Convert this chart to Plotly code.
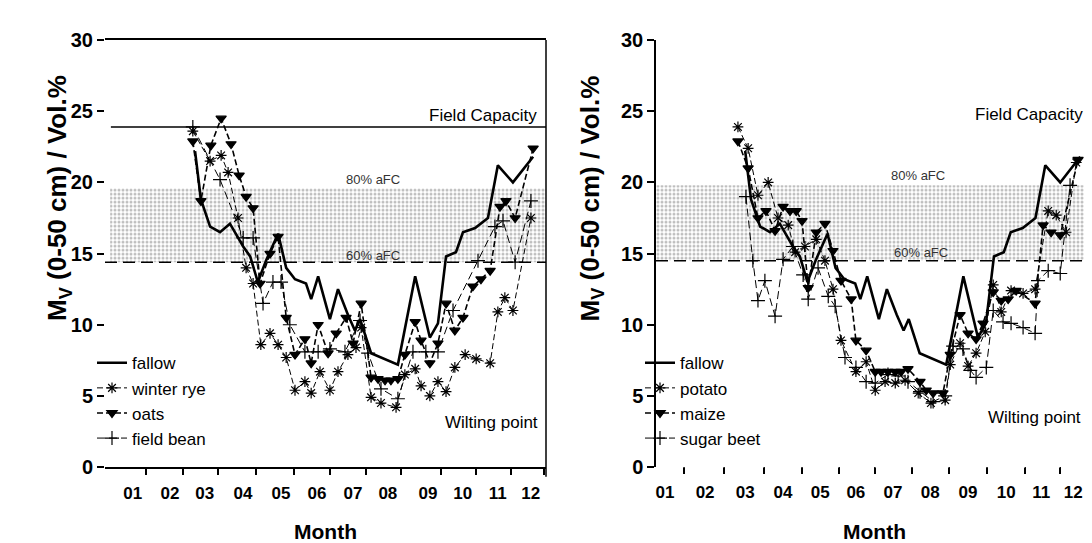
import plotly.graph_objects as go

# ---------------- data (t = time in months since 1 Jan, v = soil moisture Mv, Vol.%) ----------------
month_labels = ["01", "02", "03", "04", "05", "06", "07", "08", "09", "10", "11", "12"]

# left panel
fallow_t = [2.45, 2.61, 2.86, 3.13, 3.40, 3.76, 3.95, 4.16, 4.38, 4.71, 4.93, 5.17, 5.47, 5.61, 5.80,
            6.12, 6.34, 6.61, 6.80, 6.94, 7.24, 7.97, 8.44, 8.84, 9.06, 9.28, 9.55, 9.74, 10.07, 10.42,
            10.69, 11.10, 11.65]
fallow_v = [22.2, 18.8, 16.9, 16.5, 17.1, 15.5, 14.8, 13.0, 14.5, 16.4, 14.0, 13.2, 12.9, 11.8, 13.4,
            10.4, 12.5, 10.7, 9.6, 10.4, 8.0, 7.2, 13.4, 9.1, 10.1, 14.8, 15.1, 16.5, 16.8, 17.5,
            21.2, 20.0, 21.8]

winter_rye_t = [2.39, 2.86, 3.16, 3.35, 3.62, 3.84, 4.03, 4.24, 4.49, 4.71, 4.93, 5.17, 5.44, 5.61, 5.85,
                6.12, 6.34, 6.61, 6.83, 6.97, 7.24, 7.51, 7.92, 8.16, 8.44, 8.60, 8.84, 9.06, 9.28, 9.52,
                9.80, 10.10, 10.48, 10.69, 10.88, 11.10, 11.59]
winter_rye_v = [23.6, 21.5, 21.9, 20.7, 17.5, 14.0, 12.9, 8.6, 9.4, 8.6, 7.7, 5.4, 6.0, 5.2, 6.7,
                5.4, 6.7, 7.9, 8.4, 9.8, 4.9, 4.5, 4.2, 6.5, 6.9, 5.7, 5.0, 6.0, 5.3, 7.0,
                7.9, 7.6, 7.3, 10.9, 11.9, 11.0, 17.5]

oats_t = [2.39, 2.61, 2.88, 3.16, 3.43, 3.65, 3.84, 4.03, 4.22, 4.49, 4.71, 4.93, 5.17, 5.44, 5.61,
          5.80, 6.07, 6.29, 6.56, 6.75, 6.97, 7.24, 7.43, 7.62, 7.78, 7.97, 8.16, 8.44, 8.60, 8.84,
          9.06, 9.28, 9.52, 9.74, 10.01, 10.23, 10.48, 10.75, 10.91, 11.16, 11.65]
oats_v = [22.9, 18.7, 22.6, 24.5, 22.7, 20.5, 19.0, 18.2, 12.9, 15.0, 16.2, 10.5, 7.9, 9.0, 7.3,
          10.0, 8.0, 9.4, 10.5, 8.7, 11.5, 6.3, 6.2, 6.1, 6.1, 6.2, 7.9, 10.2, 8.9, 7.3,
          8.7, 11.5, 9.6, 10.5, 12.7, 13.2, 13.8, 18.3, 18.7, 17.5, 22.4]

field_bean_t = [2.39, 3.13, 3.76, 4.03, 4.30, 4.57, 4.79, 5.03, 5.44, 5.80, 6.12, 6.53, 6.94, 7.16, 7.51,
                7.97, 8.38, 8.73, 9.06, 9.47, 10.15, 10.61, 10.83, 11.16, 11.59]
field_bean_v = [23.9, 20.2, 16.1, 16.1, 11.5, 13.0, 13.0, 10.0, 8.1, 8.1, 8.3, 8.1, 10.3, 8.0, 5.5,
                4.8, 8.1, 8.1, 8.1, 11.0, 14.5, 16.9, 17.3, 14.4, 18.7]

# right panel
potato_t = [2.25, 2.53, 2.80, 3.08, 3.35, 3.63, 3.82, 4.09, 4.40, 4.64, 4.86, 5.08, 5.49, 5.77, 6.02,
            6.29, 6.57, 6.84, 7.20, 7.55, 7.94, 8.08, 8.35, 8.57, 8.79, 9.04, 9.26, 9.48, 9.75, 10.08,
            10.41, 10.77, 10.99, 11.26, 11.54]
potato_v = [23.9, 22.4, 19.1, 20.0, 17.5, 17.0, 15.1, 15.5, 16.0, 14.5, 12.5, 8.9, 6.7, 7.4, 5.4,
            6.0, 5.9, 6.1, 5.2, 4.5, 4.7, 7.2, 8.7, 7.1, 8.0, 9.5, 12.8, 10.9, 12.4, 12.2,
            12.5, 18.0, 17.7, 16.5, 21.4]

maize_t = [2.25, 2.53, 2.80, 3.02, 3.27, 3.49, 3.68, 3.85, 4.01, 4.18, 4.40, 4.64, 4.86, 5.08, 5.36,
           5.49, 5.77, 6.02, 6.18, 6.37, 6.57, 6.73, 6.92, 7.25, 7.42, 7.61, 7.88, 8.08, 8.35, 8.57,
           8.79, 8.98, 9.26, 9.48, 9.67, 9.89, 10.41, 10.63, 10.85, 11.10, 11.59]
maize_v = [22.9, 21.0, 17.5, 18.0, 16.6, 18.3, 18.0, 18.0, 17.3, 12.6, 16.5, 17.1, 15.2, 13.1, 11.8,
           8.9, 8.2, 6.7, 6.7, 6.7, 6.7, 6.7, 6.9, 6.0, 5.4, 5.2, 5.2, 7.9, 10.7, 9.4,
           9.0, 10.1, 12.3, 11.7, 11.8, 12.4, 11.5, 17.0, 16.5, 16.3, 21.6]

sugar_beet_t = [2.47, 2.66, 2.80, 2.99, 3.27, 3.49, 3.76, 4.04, 4.18, 4.45, 4.73, 4.92, 5.19, 5.49, 5.77,
                6.02, 6.37, 6.65, 6.92, 7.25, 7.61, 7.94, 8.16, 8.43, 8.63, 8.79, 9.07, 9.26, 9.53, 9.75,
                10.08, 10.41, 10.49, 10.77, 11.10, 11.37]
sugar_beet_v = [19.0, 14.5, 11.7, 13.1, 10.6, 14.6, 15.5, 13.5, 11.8, 14.0, 12.0, 11.3, 7.7, 7.0, 6.0,
                5.9, 6.5, 6.4, 6.0, 5.3, 4.6, 5.0, 8.5, 8.3, 6.8, 6.3, 7.0, 11.0, 10.2, 10.1,
                9.8, 9.4, 13.1, 13.8, 13.6, 19.8]

# reference soil-water levels (Vol.%)
field_capacity = 23.9
afc80_left, afc60_left = 19.6, 14.4
afc80_right, afc60_right = 19.8, 14.5

# ---------------- styling ----------------
FONT = "Liberation Sans, Arial, sans-serif"
BLACK = "black"
T_MAX = 12  # x range: 0 .. 12 months

fig = go.Figure()


def add_band(xa, ya, lo, hi, t0):
    common = dict(xaxis=xa, yaxis=ya, showlegend=False, hoverinfo="skip")
    fig.add_trace(go.Scatter(x=[t0, T_MAX], y=[lo, lo], mode="lines",
                             line=dict(width=0, color="rgba(0,0,0,0)"), **common))
    fig.add_trace(go.Scatter(x=[t0, T_MAX], y=[hi, hi], mode="lines",
                             line=dict(width=0, color="rgba(0,0,0,0)"), fill="tonexty",
                             fillcolor="white",
                             fillpattern=dict(shape=".", fgcolor="#808080", bgcolor="white",
                                              size=4, solidity=0.45),
                             **common))
    fig.add_trace(go.Scatter(x=[0, T_MAX], y=[lo, lo], mode="lines",
                             line=dict(width=1.5, color=BLACK, dash="12px,6px"), **common))


add_band("x", "y", afc60_left, afc80_left, 0.14)
add_band("x2", "y2", afc60_right, afc80_right, 0.0)

# field capacity line (left panel)
fig.add_trace(go.Scatter(x=[0.16, T_MAX], y=[field_capacity, field_capacity], mode="lines",
                         line=dict(width=1.5, color=BLACK), showlegend=False, hoverinfo="skip",
                         xaxis="x", yaxis="y"))


def series(t, v, name, legend, xa, ya, width, dash, symbol=None, msize=9):
    marker = dict(symbol=symbol, size=msize, color=BLACK,
                  line=dict(color=BLACK, width=1.2)) if symbol else None
    fig.add_trace(go.Scatter(x=t, y=v, name=name, legend=legend, xaxis=xa, yaxis=ya,
                             legendgroup=f"{legend}-{name}",
                             mode="lines+markers" if symbol else "lines",
                             line=dict(color=BLACK, width=width, dash=dash),
                             marker=marker))


# left panel
series(fallow_t, fallow_v, "fallow", "legend", "x", "y", 2.6, "solid")
series(winter_rye_t, winter_rye_v, "winter rye", "legend", "x", "y", 1.0, "6px,3px", "asterisk-open", 9)
series(oats_t, oats_v, "oats", "legend", "x", "y", 1.6, "6px,3px", "triangle-down", 9)
series(field_bean_t, field_bean_v, "field bean", "legend", "x", "y", 1.0, "8px,4px", "cross-thin-open", 10)

# right panel
series(fallow_t, fallow_v, "fallow", "legend2", "x2", "y2", 2.6, "solid")
series(potato_t, potato_v, "potato", "legend2", "x2", "y2", 1.0, "6px,3px", "asterisk-open", 9)
series(maize_t, maize_v, "maize", "legend2", "x2", "y2", 1.6, "6px,3px", "triangle-down", 9)
series(sugar_beet_t, sugar_beet_v, "sugar beet", "legend2", "x2", "y2", 1.0, "8px,4px", "cross-thin-open", 10)

# ---------------- axes ----------------
# tick marks sit a little to the right of the month labels; labels are shifted left in px
left_tick_pos = [1.11, 2.12, 3.07, 4.11, 5.14, 6.12, 7.10, 8.05, 9.14, 10.09, 11.04, 11.94]
right_tick_pos = [0.77, 1.87, 2.97, 4.01, 5.03, 6.01, 7.03, 8.05, 9.09, 10.14, 11.10, 11.98]

xcommon = dict(range=[0, T_MAX], showgrid=False, zeroline=False, tickmode="array",
               ticktext=month_labels, ticks="outside", ticklen=6, tickwidth=1.5,
               tickcolor=BLACK, ticklabelstandoff=4,
               tickfont=dict(family=FONT, size=17, color=BLACK, weight="bold"),
               title=dict(text="Month", standoff=22,
                          font=dict(family=FONT, size=21, color=BLACK, weight="bold")))
ycommon = dict(range=[0, 30], showgrid=False, zeroline=False, tickmode="array",
               tickvals=[0, 5, 10, 15, 20, 25, 30], ticks="outside", ticklen=7, tickwidth=1.5,
               tickcolor=BLACK,
               tickfont=dict(family=FONT, size=20, color=BLACK, weight="bold"))

x_left_dom = [97 / 1092, 538 / 1092]
x_right_dom = [648 / 1092, 1085 / 1092]
y_dom = [76 / 543, 521 / 543]

legend_common = dict(xanchor="left", yanchor="top", bgcolor="rgba(0,0,0,0)",
                     font=dict(family=FONT, size=17, color=BLACK),
                     itemwidth=30, tracegroupgap=2, traceorder="normal")

fig.update_layout(
    width=1092, height=543,
    margin=dict(l=0, r=0, t=0, b=0),
    paper_bgcolor="white", plot_bgcolor="white",
    font=dict(family=FONT, color=BLACK),
    xaxis=dict(domain=x_left_dom, anchor="y", tickvals=left_tick_pos, ticklabelshift=-13,
               showline=True, mirror=True, linecolor=BLACK, linewidth=1.5, **xcommon),
    yaxis=dict(domain=y_dom, anchor="x", showline=False, **ycommon),
    xaxis2=dict(domain=x_right_dom, anchor="y2", tickvals=right_tick_pos, ticklabelshift=-19,
                showline=False, **xcommon),
    yaxis2=dict(domain=y_dom, anchor="x2", showline=True, mirror=True, linecolor=BLACK,
                linewidth=1.5, **ycommon),
    legend=dict(x=84 / 1092, y=(543 - 340) / 543, **legend_common),
    legend2=dict(x=632 / 1092, y=(543 - 340) / 543, **legend_common),
    showlegend=True,
)

# reinforce the x tick marks as short unclipped segments just below each axis
for xa, ticks_at in (("x", left_tick_pos), ("x2", right_tick_pos)):
    for t in ticks_at:
        fig.add_shape(type="line", xref=f"{xa} domain", yref="paper",
                      x0=t / T_MAX, x1=t / T_MAX, y0=y_dom[0], y1=y_dom[0] - 7 / 543,
                      line=dict(color=BLACK, width=1.5), layer="above")

# right border of left panel
fig.add_shape(type="line", xref="x domain", yref="paper", x0=1, x1=1,
              y0=y_dom[0] - 10 / 543, y1=y_dom[1], line=dict(color=BLACK, width=1.5))

# ---------------- text labels ----------------
ytitle = "M<sub>V</sub> (0-50 cm) / Vol.%"
ann_font = dict(family=FONT, size=17, color=BLACK)
small_font = dict(family=FONT, size=13, color="#333333")
for xpx in (32, 583):
    fig.add_annotation(text=ytitle, xref="paper", yref="paper", x=xpx / 1092, y=(543 - 187) / 543,
                       textangle=-90, showarrow=False,
                       font=dict(family=FONT, size=26, color=BLACK, weight="bold"))

for xa, ya, fc_x, fc_y, p80, p60, wp in (("x", "y", 0.985, 24.7, (0.608, 20.2), (0.608, 14.9), (0.986, 3.1)),
                                         ("x2", "y2", 0.982, 24.8, (0.60, 20.5), (0.606, 15.1), (0.977, 3.5))):
    fig.add_annotation(text="Field Capacity", xref=f"{xa} domain", yref=ya, x=fc_x, y=fc_y,
                       xanchor="right", showarrow=False, font=ann_font)
    fig.add_annotation(text="80% aFC", xref=f"{xa} domain", yref=ya, x=p80[0], y=p80[1],
                       showarrow=False, font=small_font)
    fig.add_annotation(text="60% aFC", xref=f"{xa} domain", yref=ya, x=p60[0], y=p60[1],
                       showarrow=False, font=small_font)
    fig.add_annotation(text="Wilting point", xref=f"{xa} domain", yref=ya, x=wp[0], y=wp[1],
                       xanchor="right", showarrow=False, font=ann_font)

fig.write_html("out.html")
